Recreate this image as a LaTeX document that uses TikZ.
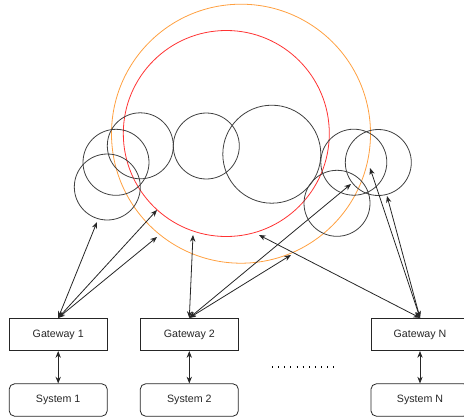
\documentclass[tikz,border=0pt]{standalone}
\usepackage{fontspec}
\setmainfont{Liberation Sans}
\usetikzlibrary{arrows.meta, positioning}
\definecolor{ringorange}{HTML}{FFA040}
\definecolor{ringred}{HTML}{FF3333}

\begin{document}
\begin{tikzpicture}[x=0.75pt, y=-0.75pt, >={Stealth[length=5pt, width=4pt]}, line width=0.6pt,
  gate/.style={rectangle, draw=black!85, minimum width=73.5pt, minimum height=24.3pt, inner sep=0pt, font=\fontsize{8}{10}\selectfont, text=black!85},
  sys/.style={gate, rounded corners=4pt},
  ring/.style={circle, draw=black!75, minimum size=#1, inner sep=0pt},
  ring/.default=49.5pt,
  link/.style={<->, draw=black!85}]
  \clip (0,0) rectangle (464,418);
  % the two big rings
  \node[ring=194.25pt, draw=ringorange] (outer) at (241,133.7) {};
  \node[ring=154.5pt, draw=ringred] (inner) at (226.3,133.5) {};
  % small circles
  \node[ring] (c1) at (140.3,145.8) {};
  \node[ring] (c2) at (116,162.3) {};
  \node[ring] (c3) at (107.3,187) {};
  \node[ring] (c4) at (206.3,146) {};
  \node[ring=73.5pt] (c5) at (271.8,154.2) {};
  \node[ring] (c6) at (353.8,162.2) {};
  \node[ring] (c7) at (378.3,162.5) {};
  \node[ring] (c8) at (337,203.3) {};
  % gateways and systems
  \node[gate] (g1) at (58.2,334.5) {Gateway 1};
  \node[gate] (g2) at (189.3,334.5) {Gateway 2};
  \node[gate] (gN) at (420,334.5) {Gateway N};
  \node[sys] (s1) at (58.2,400) {System 1};
  \node[sys] (s2) at (189.3,400) {System 2};
  \node[sys] (sN) at (420,400) {System N};
  % arrow ends
  \coordinate (t1a) at (97,222);
  \coordinate (t1b) at (157,210);
  \coordinate (t1c) at (157,237);
  \coordinate (t2a) at (193,235);
  \coordinate (t2b) at (351,184);
  \coordinate (t2c) at (291,255);
  \coordinate (tNa) at (259,235);
  \coordinate (tNb) at (370,168);
  \coordinate (tNc) at (387,196);
  \draw[link] (g1.north) -- (t1a);
  \draw[link] (g1.north) -- (t1b);
  \draw[link] (g1.north) -- (t1c);
  \draw[link] (g2.north) -- (t2a);
  \draw[link] (g2.north) -- (t2b);
  \draw[link] (g2.north) -- (t2c);
  \draw[link] (gN.north) -- (tNa);
  \draw[link] (gN.north) -- (tNb);
  \draw[link] (gN.north) -- (tNc);
  \draw[link] (g1) -- (s1);
  \draw[link] (g2) -- (s2);
  \draw[link] (gN) -- (sN);
  % more gateways
  \draw[line width=0.9pt, dash pattern=on 0.8pt off 3.8pt] (272,367) -- (334,367);
\end{tikzpicture}
\end{document}
